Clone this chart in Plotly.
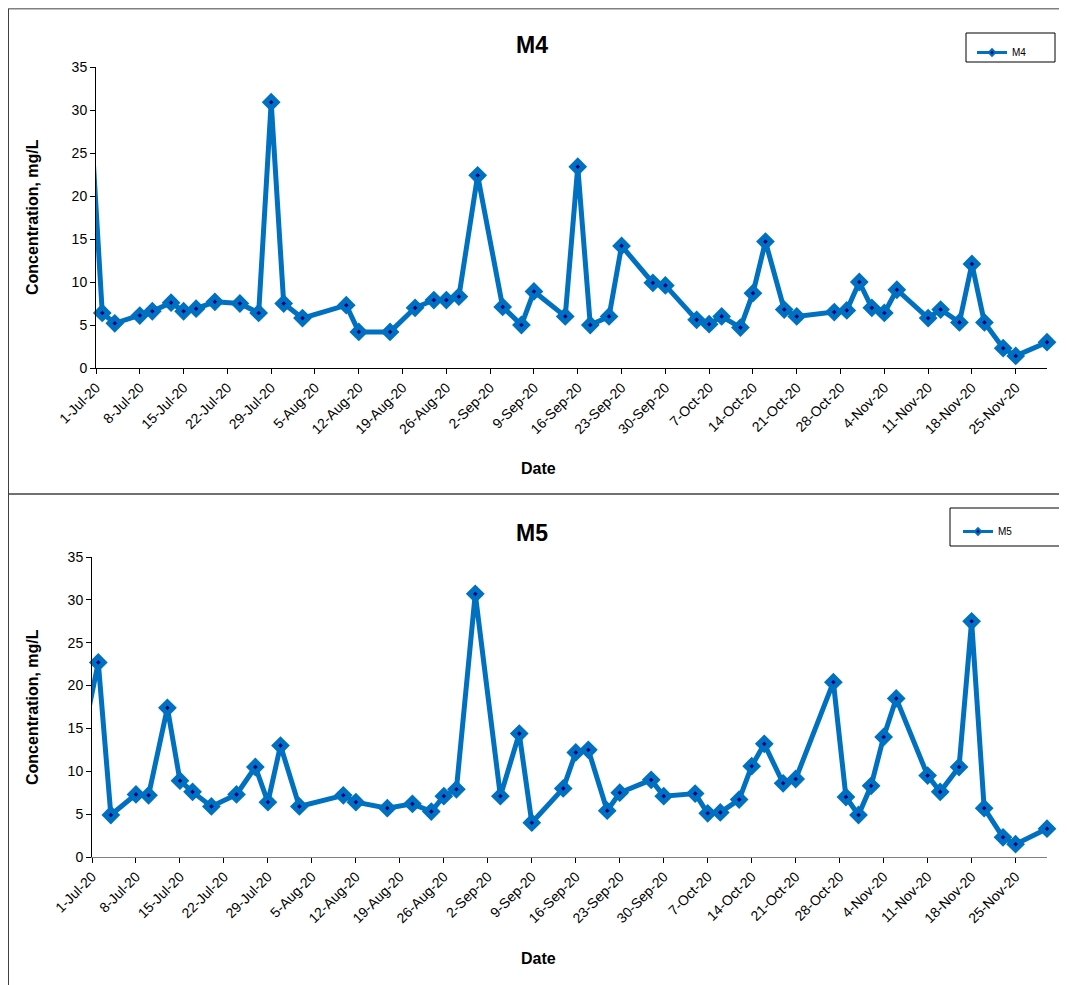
import plotly.graph_objects as go

# ---------------- data ----------------
pre_date = "2020-06-30"
pre_m4 = 31.0
pre_m5 = 15.5

dates = [
    "2020-07-02", "2020-07-04", "2020-07-08", "2020-07-10", "2020-07-13", "2020-07-15",
    "2020-07-17", "2020-07-20", "2020-07-24", "2020-07-27", "2020-07-29", "2020-07-31",
    "2020-08-03", "2020-08-10", "2020-08-12", "2020-08-17", "2020-08-21", "2020-08-24",
    "2020-08-26", "2020-08-28", "2020-08-31",
    "2020-09-04", "2020-09-07", "2020-09-09", "2020-09-14", "2020-09-16", "2020-09-18",
    "2020-09-21", "2020-09-23", "2020-09-28", "2020-09-30",
    "2020-10-05", "2020-10-07", "2020-10-09", "2020-10-12", "2020-10-14", "2020-10-16",
    "2020-10-19", "2020-10-21", "2020-10-27", "2020-10-29", "2020-10-31",
    "2020-11-02", "2020-11-04", "2020-11-06", "2020-11-11", "2020-11-13", "2020-11-16",
    "2020-11-18", "2020-11-20", "2020-11-23", "2020-11-25", "2020-11-30",
]

m4 = [
    6.4, 5.2, 6.1, 6.6, 7.6, 6.6, 6.9, 7.7, 7.5, 6.4, 30.9, 7.5,
    5.8, 7.3, 4.2, 4.2, 7.0, 7.9, 7.9, 8.3, 22.4,
    7.1, 5.0, 8.9, 6.0, 23.4, 5.0, 6.0, 14.2, 9.9, 9.6,
    5.6, 5.1, 6.0, 4.7, 8.7, 14.7, 6.8, 6.0, 6.5, 6.7, 10.0,
    7.0, 6.4, 9.1, 5.8, 6.8, 5.3, 12.1, 5.3, 2.3, 1.4, 3.0,
]

m5 = [
    22.7, 4.9, 7.3, 7.2, 17.4, 8.9, 7.6, 5.9, 7.3, 10.5, 6.4, 13.0,
    5.9, 7.2, 6.4, 5.7, 6.2, 5.3, 7.1, 7.9, 30.7,
    7.1, 14.4, 4.0, 8.0, 12.2, 12.5, 5.4, 7.5, 9.0, 7.1,
    7.4, 5.1, 5.2, 6.7, 10.6, 13.2, 8.6, 9.1, 20.4, 7.0, 4.9,
    8.3, 14.0, 18.5, 9.5, 7.6, 10.5, 27.5, 5.7, 2.3, 1.5, 3.3,
]

tick_dates = [
    "2020-07-01", "2020-07-08", "2020-07-15", "2020-07-22", "2020-07-29",
    "2020-08-05", "2020-08-12", "2020-08-19", "2020-08-26",
    "2020-09-02", "2020-09-09", "2020-09-16", "2020-09-23", "2020-09-30",
    "2020-10-07", "2020-10-14", "2020-10-21", "2020-10-28",
    "2020-11-04", "2020-11-11", "2020-11-18", "2020-11-25",
]
tick_labels = [
    "1-Jul-20", "8-Jul-20", "15-Jul-20", "22-Jul-20", "29-Jul-20",
    "5-Aug-20", "12-Aug-20", "19-Aug-20", "26-Aug-20",
    "2-Sep-20", "9-Sep-20", "16-Sep-20", "23-Sep-20", "30-Sep-20",
    "7-Oct-20", "14-Oct-20", "21-Oct-20", "28-Oct-20",
    "4-Nov-20", "11-Nov-20", "18-Nov-20", "25-Nov-20",
]
y_ticks = [0, 5, 10, 15, 20, 25, 30, 35]

# ---------------- layout helpers ----------------
# the page places the figure 8px from the top-left corner (body margin)
OFF = 8
W, H = 1067 - OFF, 985 - OFF
BLUE = "#0070C0"
NAVY = "#000080"
FONT = "Liberation Sans, Arial, sans-serif"


def px_x(x):
    return (x - OFF) / W


def px_y(y):
    return 1 - (y - OFF) / H


fig = go.Figure()

series = [
    ("M4", m4, pre_m4, "x", "y", "legend"),
    ("M5", m5, pre_m5, "x2", "y2", "legend2"),
]
for name, vals, pre, xa, ya, lg in series:
    # connecting line (including the point before the axis start, clipped)
    fig.add_trace(go.Scatter(
        x=[pre_date] + dates, y=[pre] + vals, mode="lines",
        line=dict(color=BLUE, width=5), showlegend=False, hoverinfo="skip",
        xaxis=xa, yaxis=ya,
    ))
    # markers
    fig.add_trace(go.Scatter(
        x=dates, y=vals, mode="markers", name=name, showlegend=False,
        marker=dict(symbol="diamond", size=9, color=NAVY,
                    line=dict(color=BLUE, width=5)),
        cliponaxis=False, xaxis=xa, yaxis=ya,
    ))
    # legend entry
    fig.add_trace(go.Scatter(
        x=[None], y=[None], mode="lines+markers", name=name,
        line=dict(color=BLUE, width=3),
        marker=dict(symbol="diamond", size=5, color=NAVY,
                    line=dict(color=BLUE, width=2)),
        xaxis=xa, yaxis=ya, legend=lg,
    ))

xcommon = dict(
    type="date", range=["2020-07-01", "2020-11-30"], automargin=False,
    tickmode="array", tickvals=tick_dates, ticktext=tick_labels,
    tickangle=-45, ticks="outside", ticklen=5, tickwidth=1,
    showgrid=False, zeroline=False, showline=True, linewidth=1,
    tickfont=dict(family=FONT, size=14, color="black"),
)
ycommon = dict(
    range=[0, 35], tickmode="array", tickvals=y_ticks, automargin=False,
    ticks="outside", ticklen=5, tickwidth=1, tickcolor="black",
    showgrid=False, zeroline=False, showline=True, linewidth=1, linecolor="black",
    tickfont=dict(family=FONT, size=14, color="black"),
)

fig.update_layout(
    template="none",
    width=W, height=H, margin=dict(l=0, r=0, t=0, b=0, pad=0, autoexpand=False),
    paper_bgcolor="white", plot_bgcolor="white",
    font=dict(family=FONT, color="black"),
    xaxis=dict(xcommon, domain=[px_x(96), px_x(1047)], anchor="y",
               linecolor="black", tickcolor="black"),
    yaxis=dict(ycommon, domain=[px_y(368), px_y(67)], anchor="x"),
    xaxis2=dict(xcommon, domain=[px_x(92), px_x(1047)], anchor="y2",
                linecolor="#808080", tickcolor="black"),
    yaxis2=dict(ycommon, domain=[px_y(857), px_y(557)], anchor="x2"),
    legend=dict(x=px_x(972), y=px_y(38), xanchor="left", yanchor="top",
                bgcolor="rgba(0,0,0,0)", borderwidth=0,
                font=dict(family=FONT, size=10, color="black")),
    legend2=dict(x=px_x(958), y=px_y(517), xanchor="left", yanchor="top",
                 bgcolor="rgba(0,0,0,0)", borderwidth=0,
                 font=dict(family=FONT, size=10, color="black")),
    showlegend=True,
)

annotations = [
    dict(text="<b>M4</b>", x=px_x(532), y=px_y(45), font=dict(size=23)),
    dict(text="<b>M5</b>", x=px_x(532), y=px_y(533), font=dict(size=23)),
    dict(text="<b>Concentration, mg/L</b>", x=px_x(32), y=px_y(217), textangle=-90,
         font=dict(size=16)),
    dict(text="<b>Concentration, mg/L</b>", x=px_x(32), y=px_y(707), textangle=-90,
         font=dict(size=16)),
    dict(text="<b>Date</b>", x=px_x(538), y=px_y(468), font=dict(size=16)),
    dict(text="<b>Date</b>", x=px_x(538), y=px_y(958), font=dict(size=16)),
]
for a in annotations:
    a.update(xref="paper", yref="paper", showarrow=False,
             xanchor="center", yanchor="middle")
    a["font"].update(family=FONT, color="black")
fig.update_layout(annotations=annotations)

shapes = [
    # panel borders
    dict(type="line", x0=px_x(8.5), x1=1.0, y0=px_y(8.7), y1=px_y(8.7),
         line=dict(color="#808080", width=1.5)),
    dict(type="line", x0=px_x(8.5), x1=px_x(8.5), y0=px_y(8.5), y1=0,
         line=dict(color="#404040", width=1)),
    dict(type="line", x0=px_x(8.5), x1=1.0, y0=px_y(494), y1=px_y(494),
         line=dict(color="#404040", width=1.5)),
    # legend boxes
    dict(type="rect", x0=px_x(966), x1=px_x(1055), y0=px_y(62), y1=px_y(33),
         line=dict(color="black", width=1)),
    dict(type="rect", x0=px_x(950), x1=px_x(1060), y0=px_y(546), y1=px_y(508),
         line=dict(color="black", width=1)),
]
for s in shapes:
    s.update(xref="paper", yref="paper")
fig.update_layout(shapes=shapes)

fig.write_html("out.html")
